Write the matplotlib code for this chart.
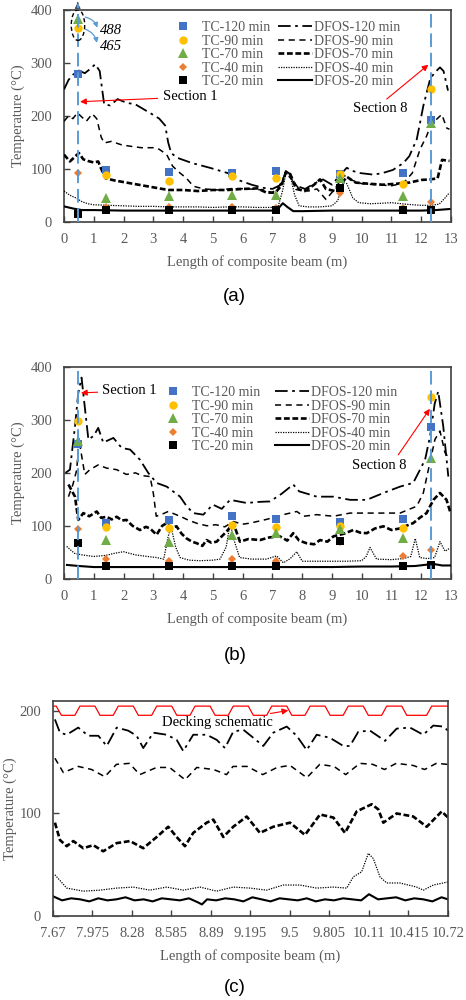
import matplotlib
matplotlib.use('Agg')
import matplotlib.pyplot as plt
from matplotlib.patches import Ellipse

plt.rcParams['font.family'] = ['Liberation Serif', 'DejaVu Serif']

# ---------------- data ----------------
tc_x = [0.46, 1.4, 3.53, 5.65, 7.12, 9.27, 11.4, 12.32]

# panel (a) thermocouples
tc120_a = [280, 97, 94, 93, 95, 91, 93, 192]
tc90_a = [366, 88, 77, 86, 82, 90, 72, 252]
tc70_a = [384, 45, 49, 50, 50, 83, 48, 187]
tc40_a = [92, 27, 28, 28, 26, 55, 25, 37]
tc20_a = [15, 22, 22, 22, 22, 64, 22, 22]

# panel (a) fibre
d120_a_x = [0.0, 0.15, 0.3, 0.5, 0.7, 0.9, 1.05, 1.2, 1.35, 1.55, 1.8, 2.1, 2.4, 2.7, 3.0, 3.2, 3.4, 3.5,
            3.6, 3.8, 4.3, 4.9, 5.5, 5.9, 6.3, 6.7, 7.0, 7.3, 7.45, 7.6, 7.8, 8.1, 8.4, 8.7, 9.0, 9.3,
            9.5, 9.7, 9.95, 10.4, 10.7, 11.05, 11.4, 11.6, 11.85, 11.96, 12.07, 12.3, 12.45, 12.63,
            12.75, 12.9]
d120_a = [250, 268, 278, 286, 281, 290, 298, 285, 222, 220, 232, 225, 222, 212, 202, 195, 182, 150,
          130, 121, 111, 102, 92, 78, 70, 64, 62, 70, 96, 90, 68, 62, 72, 80, 70, 90,
          102, 96, 92, 89, 92, 98, 111, 124, 156, 187, 219, 270, 282, 292,
          285, 248]
d90_a_x = [0.0, 0.15, 0.3, 0.45, 0.6, 0.75, 0.95, 1.1, 1.25, 1.35, 1.6, 1.9, 2.2, 2.6, 3.0, 3.2, 3.45,
           3.65, 3.9, 4.1, 4.35, 4.7, 5.2, 5.7, 6.2, 6.7, 7.0, 7.25, 7.45, 7.65, 7.9, 8.2, 8.5, 8.8,
           9.1, 9.4, 9.6, 10.0, 10.5, 11.0, 11.4, 11.7, 11.96, 12.18, 12.35, 12.52, 12.69, 12.86, 12.95]
d90_a = [190, 200, 195, 206, 198, 190, 204, 195, 160, 149, 152, 146, 143, 140, 140, 137, 127,
         105, 92, 83, 67, 62, 60, 63, 62, 60, 55, 70, 92, 80, 62, 58, 62, 42,
         62, 88, 80, 72, 70, 68, 73, 92, 137, 162, 187, 194, 203, 177, 175]
d70_a_x = [0.0, 0.2, 0.35, 0.5, 0.65, 0.8, 1.0, 1.15, 1.25, 1.4, 1.7, 2.0, 2.5, 3.0, 3.5, 4.0, 4.5,
           5.0, 5.5, 6.0, 6.5, 6.8, 7.1, 7.3, 7.45, 7.6, 7.8, 8.1, 8.4, 8.6, 8.8, 9.1, 9.3, 9.5, 9.8,
           10.2, 10.7, 11.2, 11.6, 12.0, 12.3, 12.55, 12.7, 12.95]
d70_a = [127, 114, 122, 130, 118, 115, 112, 114, 100, 82, 78, 75, 70, 65, 60, 60, 58,
         60, 60, 62, 63, 55, 55, 68, 93, 90, 62, 58, 70, 80, 62, 58, 70, 85, 74,
         72, 70, 72, 74, 79, 80, 82, 117, 115]
d40_a_x = [0.0, 0.2, 0.4, 0.6, 0.8, 1.0, 1.5, 2.0, 2.5, 3.0, 3.5, 4.0, 4.5, 5.0, 5.5, 6.0, 6.5, 7.0,
           7.2, 7.35, 7.45, 7.6, 7.75, 7.9, 8.2, 8.6, 9.0, 9.2, 9.35, 9.5, 9.7, 9.9, 10.3, 10.7, 11.0,
           11.5, 12.0, 12.3, 12.6, 12.8, 12.95]
d40_a = [58, 50, 45, 38, 34, 32, 31, 30, 29, 29, 28, 28, 28, 27, 28, 28, 27, 27,
         30, 60, 92, 88, 50, 30, 28, 28, 30, 40, 75, 72, 45, 36, 34, 35, 36,
         33, 31, 31, 33, 45, 55]
d20_a_x = [0.0, 0.3, 0.6, 1.0, 2.0, 3.0, 4.0, 5.0, 6.0, 7.0, 7.2, 7.35, 7.5, 7.7, 8.0, 9.0, 10.0,
           11.0, 12.0, 12.5, 12.95]
d20_a = [29, 25, 22, 22, 21, 21, 21, 21, 21, 21, 25, 35, 28, 20, 20, 21, 21,
         21, 21, 22, 24]

# panel (b) thermocouples
tc120_b = [255, 105, 111, 119, 113, 108, 113, 286]
tc90_b = [298, 97, 95, 102, 97, 100, 95, 343]
tc70_b = [260, 73, 69, 82, 87, 94, 76, 229]
tc40_b = [94, 37, 34, 37, 34, 70, 42, 54]
tc20_b = [68, 24, 24, 24, 24, 72, 24, 26]

# panel (b) fibre
d120_b_x = [0.05, 0.2, 0.37, 0.48, 0.59, 0.67, 0.82, 1.0, 1.15, 1.32, 1.5, 1.66, 1.94, 2.22, 2.55,
            2.83, 3.11, 3.45, 3.9, 4.12, 4.34, 4.68, 5.0, 5.3, 5.58, 6.14, 6.5, 6.92, 7.3, 7.7, 7.9,
            8.2, 8.49, 9.05, 9.61, 10.17, 10.73, 11.29, 11.73, 11.96, 12.13, 12.3, 12.45, 12.57,
            12.74, 12.91]
d120_b = [200, 206, 288, 351, 380, 339, 263, 270, 285, 257, 262, 266, 247, 244, 225,
          200, 181, 174, 155, 137, 124, 121, 140, 132, 149, 143, 145, 146, 160, 178, 165,
          160, 155, 155, 149, 149, 162, 174, 181, 206, 225, 270, 330, 354,
          288, 193]
d90_b_x = [0.15, 0.3, 0.43, 0.5, 0.6, 0.7, 0.87, 1.15, 1.43, 1.77, 2.1, 2.4, 2.6, 2.89, 3.0, 3.1,
           3.3, 3.5, 3.9, 4.2, 4.5, 4.8, 5.1, 5.4, 5.69, 6.0, 6.25, 6.8, 7.37, 7.82, 8.05, 8.49, 9.05,
           9.61, 10.17, 10.73, 11.29, 11.85, 12.07, 12.24, 12.46, 12.63, 12.8, 12.97]
d90_b = [155, 178, 206, 265, 230, 197, 206, 215, 209, 206, 197, 200, 195, 193, 162, 118,
         122, 127, 118, 110, 104, 100, 102, 98, 108, 103, 105, 112, 121, 127, 118, 121, 118,
         124, 124, 124, 124, 137, 162, 206, 263, 279, 238, 225]
d70_b_x = [0.15, 0.37, 0.48, 0.65, 0.85, 1.1, 1.25, 1.43, 1.6, 1.77, 1.95, 2.1, 2.3, 2.55, 2.75,
           2.89, 3.11, 3.3, 3.45, 3.6, 3.78, 3.95, 4.12, 4.3, 4.46, 4.65, 4.79, 4.95, 5.13, 5.3,
           5.46, 5.69, 5.91, 6.2, 6.58, 6.9, 7.25, 7.5, 7.7, 7.9, 8.15, 8.4, 8.6, 8.85, 9.05, 9.4,
           9.72, 9.95, 10.17, 10.45, 10.73, 11.0, 11.29, 11.5, 11.73, 11.95, 12.18, 12.41, 12.63,
           12.85, 12.97]
d70_b = [178, 155, 111, 124, 118, 127, 115, 117, 112, 117, 110, 111, 100, 92, 98,
         95, 83, 100, 105, 96, 99, 85, 76, 70, 67, 62, 73, 68, 70, 80,
         89, 105, 70, 75, 73, 78, 80, 72, 86, 72, 67, 65, 73, 70, 80, 85,
         92, 87, 86, 95, 99, 92, 95, 100, 105, 115, 124, 149, 162,
         149, 127]
d40_b_x = [0.09, 0.35, 0.6, 1.0, 1.4, 1.7, 2.0, 2.4, 2.8, 3.11, 3.35, 3.5, 3.6, 3.75, 3.9, 4.2,
           4.57, 5.0, 5.24, 5.45, 5.58, 5.7, 5.9, 6.3, 6.8, 7.14, 7.37, 7.6, 7.82, 8.0, 8.5, 9.0,
           9.5, 10.0, 10.15, 10.28, 10.5, 11.0, 11.4, 11.65, 11.8, 11.95, 12.2, 12.45, 12.63,
           12.8, 12.97]
d40_b = [61, 48, 45, 42, 44, 48, 51, 45, 42, 40, 37, 80, 97, 60, 40, 35,
         34, 35, 37, 60, 105, 75, 40, 37, 37, 43, 30, 38, 51, 33, 33, 33,
         33, 34, 42, 59, 37, 36, 38, 42, 76, 40, 38, 40, 70,
         52, 58]
d20_b_x = [0.1, 0.5, 1.0, 2.0, 3.0, 4.0, 5.0, 6.0, 7.0, 8.0, 9.0, 10.0, 11.0, 11.8, 12.4, 12.7, 12.97]
d20_b = [26, 24, 22, 22, 22, 22, 22, 22, 22, 22, 22, 23, 23, 24, 28, 25, 25]

# panel (c) close-up
d120_c_x = [7.685, 7.724, 7.776, 7.865, 7.943, 8.02, 8.085, 8.162, 8.251, 8.316, 8.367, 8.445, 8.548,
            8.625, 8.676, 8.753, 8.857, 8.934, 8.998, 9.062, 9.139, 9.217, 9.294, 9.371, 9.475,
            9.552, 9.629, 9.706, 9.809, 9.912, 9.963, 10.028, 10.118, 10.234, 10.324, 10.427,
            10.529, 10.607, 10.684, 10.72]
d120_c = [192, 179, 177, 184, 176, 176, 166, 184, 181, 176, 164, 179, 177,
          172, 161, 177, 177, 172, 164, 180, 182, 174, 166, 179, 185,
          176, 162, 177, 174, 166, 166, 180, 181, 171, 183, 184,
          177, 186, 185, 181]
d90_c_x = [7.685, 7.75, 7.865, 7.968, 8.07, 8.16, 8.26, 8.34, 8.47, 8.57, 8.69, 8.78, 8.91, 9.01,
           9.06, 9.17, 9.29, 9.40, 9.50, 9.63, 9.73, 9.84, 9.93, 10.04, 10.14, 10.23, 10.32, 10.45,
           10.54, 10.63, 10.72]
d90_c = [154, 140, 146, 143, 136, 148, 149, 138, 145, 145, 133, 145, 143, 138,
         146, 146, 138, 145, 147, 135, 148, 146, 138, 149, 148, 143, 149, 147,
         143, 149, 148]
d70_c_x = [7.685, 7.724, 7.776, 7.827, 7.904, 7.981, 8.058, 8.162, 8.265, 8.367, 8.471, 8.56, 8.625,
           8.689, 8.753, 8.857, 8.908, 8.985, 9.062, 9.166, 9.268, 9.371, 9.5, 9.616, 9.732, 9.835,
           9.925, 10.015, 10.131, 10.182, 10.221, 10.324, 10.452, 10.556, 10.672, 10.72]
d70_c = [91, 74, 68, 73, 66, 69, 63, 71, 73, 66, 77, 87, 77,
         68, 81, 91, 94, 77, 87, 97, 81, 87, 91, 79, 99, 96,
         81, 102, 109, 104, 91, 100, 97, 87, 102, 96]
d40_c_x = [7.685, 7.776, 7.904, 8.033, 8.162, 8.29, 8.419, 8.548, 8.676, 8.805, 8.934, 9.062, 9.191,
           9.32, 9.448, 9.577, 9.706, 9.834, 9.938, 9.989, 10.054, 10.105, 10.143, 10.195, 10.247,
           10.35, 10.478, 10.53, 10.607, 10.72]
d40_c = [40, 27, 24, 25, 27, 28, 25, 28, 25, 28, 24, 28, 27,
         25, 30, 30, 27, 28, 27, 38, 43, 61, 56, 38, 32,
         32, 28, 25, 30, 33]
d20_c_x = [7.67, 7.74, 7.81, 7.88, 7.95, 8.02, 8.09, 8.16, 8.23, 8.30, 8.37, 8.44, 8.51, 8.58, 8.65,
           8.72, 8.79, 8.82, 8.86, 8.93, 9.00, 9.07, 9.14, 9.21, 9.28, 9.35, 9.42, 9.49, 9.56, 9.63,
           9.70, 9.77, 9.84, 9.91, 9.98, 10.05, 10.11, 10.18, 10.25, 10.32, 10.39, 10.46, 10.53,
           10.60, 10.67, 10.72]
d20_c = [19, 15, 17, 16, 14, 17, 15, 16, 18, 15, 16, 14, 17, 16, 15,
         17, 13, 11, 16, 15, 17, 16, 14, 18, 16, 14, 17, 16, 15, 17,
         14, 16, 15, 17, 16, 15, 21, 16, 17, 18, 15, 17, 16, 14, 18, 16]

# decking profile corners (schematic)
deck_x = [7.67, 7.695, 7.735, 7.839, 7.878, 7.994, 8.033, 8.135, 8.174, 8.29, 8.329, 8.432, 8.471,
          8.587, 8.626, 8.728, 8.767, 8.883, 8.922, 9.023, 9.062, 9.178, 9.217, 9.32, 9.359, 9.475,
          9.514, 9.616, 9.655, 9.771, 9.81, 9.911, 9.95, 10.066, 10.105, 10.208, 10.247, 10.363,
          10.402, 10.555, 10.594, 10.72]
deck_y = [205, 205, 196, 196, 205, 205, 196, 196, 205, 205, 196, 196, 205,
          205, 196, 196, 205, 205, 196, 196, 205, 205, 196, 196, 205, 205,
          196, 196, 205, 205, 196, 196, 205, 205, 196, 196, 205, 205,
          196, 196, 205, 205]

beam_ticks = list(range(0, 14))
close_ticks = [7.67, 7.975, 8.28, 8.585, 8.89, 9.195, 9.5, 9.805, 10.11, 10.415, 10.72]
close_labels = ['7.67', '7.975', '8.28', '8.585', '8.89', '9.195', '9.5', '9.805', '10.11', '10.415', '10.72']
section_x = [0.46, 12.32]

# ---------------- styles ----------------
GREY = '#595959'
SPINE = '#404040'
BLUE_LINE = '#5B9BD5'
fs = 10.5

tc_styles = [('TC-120 min', 's', '#4472C4', 5.5),
             ('TC-90 min', 'o', '#FFC000', 6),
             ('TC-70 min', '^', '#70AD47', 6.5),
             ('TC-40 min', 'D', '#ED7D31', 3.8),
             ('TC-20 min', 's', 'black', 5.5)]
dfos_styles = [('DFOS-120 min', (0, (7, 2.5, 1.5, 2.5)), 1.3),
               ('DFOS-90 min', (0, (4, 3)), 1.1),
               ('DFOS-70 min', (0, (2.2, 1)), 1.9),
               ('DFOS-40 min', (0, (1, 1)), 0.9),
               ('DFOS-20 min', '-', 1.5)]


def style_axes(ax, xlim, ylim, xticks, yticks, xlabels=None, ypad=4):
    ax.set_xlim(*xlim)
    ax.set_ylim(*ylim)
    ax.set_xticks(xticks)
    if xlabels is not None:
        ax.set_xticklabels(xlabels)
    ax.set_yticks(yticks)
    ax.tick_params(direction='in', length=4, width=1, color=SPINE, labelcolor=GREY, labelsize=fs)
    ax.tick_params(axis='x', pad=8)
    ax.tick_params(axis='y', pad=8.5)
    for s in ax.spines.values():
        s.set_color(SPINE)
        s.set_linewidth(1.2)
    ax.set_xlabel('Length of composite beam (m)', color=GREY, fontsize=fs, labelpad=7)
    ax.set_ylabel('Temperature (°C)', color=GREY, fontsize=fs, labelpad=ypad)


def draw_beam(ax, dfos, tcs, leg_anchor, colspace):
    handles = []
    for (lab, mk, col, ms), vals in zip(tc_styles, tcs):
        h, = ax.plot(tc_x, vals, linestyle='none', marker=mk, color=col, markersize=ms,
                     markeredgewidth=0, label=lab, zorder=4)
        handles.append(h)
    for (lab, ls, lw), (xs, ys) in zip(dfos_styles, dfos):
        h, = ax.plot(xs, ys, color='black', linestyle=ls, linewidth=lw, label=lab, zorder=3)
        handles.append(h)
    leg = ax.legend(handles=handles, ncol=2, frameon=False, fontsize=10, loc='upper left',
                    bbox_to_anchor=leg_anchor, borderpad=0, borderaxespad=0, handlelength=2.5,
                    handletextpad=0.15, columnspacing=colspace, labelspacing=0.03, numpoints=1)
    for t in leg.get_texts():
        t.set_color(GREY)
    style_axes(ax, (0, 13), (0, 400), beam_ticks, [0, 100, 200, 300, 400])


fig = plt.figure(figsize=(4.66, 10), dpi=100)
ax_a = fig.add_axes([0.1373, 0.7783, 0.8305, 0.2114])
ax_b = fig.add_axes([0.1373, 0.4213, 0.8305, 0.2117])
ax_c = fig.add_axes([0.1137, 0.0843, 0.8476, 0.2147])

# ---- (a) ----
draw_beam(ax_a,
          [(d120_a_x, d120_a), (d90_a_x, d90_a), (d70_a_x, d70_a), (d40_a_x, d40_a), (d20_a_x, d20_a)],
          [tc120_a, tc90_a, tc70_a, tc40_a, tc20_a], (0.2625, 0.948), 0.5)
ax_a.plot([section_x[0]] * 2, [0, 412], color=BLUE_LINE, lw=1.4, dashes=(7, 3), clip_on=False, zorder=5)
ax_a.annotate('', xy=(section_x[0], 420), xytext=(section_x[0], 408), annotation_clip=False,
              arrowprops=dict(arrowstyle='-|>', color='#44546A', lw=1, mutation_scale=8))
ax_a.plot([section_x[1]] * 2, [0, 400], color=BLUE_LINE, lw=1.4, dashes=(7, 3), zorder=5)
ax_a.add_patch(Ellipse((0.47, 372), 0.45, 58, fill=False, ec='black', lw=1, ls=(0, (3, 2)), zorder=6))
ax_a.annotate('', xy=(1.15, 362), xytext=(0.62, 388),
              arrowprops=dict(arrowstyle='-|>', color=BLUE_LINE, lw=0.9, mutation_scale=7,
                              connectionstyle='arc3,rad=-0.35'))
ax_a.annotate('', xy=(1.12, 333), xytext=(0.62, 366),
              arrowprops=dict(arrowstyle='-|>', color=BLUE_LINE, lw=0.9, mutation_scale=7,
                              connectionstyle='arc3,rad=-0.35'))
ax_a.text(1.21, 361, '488', style='italic', fontsize=fs, va='center', ha='left')
ax_a.text(1.21, 331, '465', style='italic', fontsize=fs, va='center', ha='left')
ax_a.annotate('Section 1', xy=(0.54, 227), xytext=(3.33, 236), fontsize=fs, va='center', ha='left',
              arrowprops=dict(arrowstyle='-|>', color='red', lw=0.8, mutation_scale=9, shrinkA=2, shrinkB=0))
ax_a.text(9.71, 214, 'Section 8', fontsize=fs, va='center', ha='left')
ax_a.annotate('', xy=(12.24, 297), xytext=(10.84, 232),
              arrowprops=dict(arrowstyle='-|>', color='red', lw=0.8, mutation_scale=9, shrinkA=0, shrinkB=0))

# ---- (b) ----
draw_beam(ax_b,
          [(d120_b_x, d120_b), (d90_b_x, d90_b), (d70_b_x, d70_b), (d40_b_x, d40_b), (d20_b_x, d20_b)],
          [tc120_b, tc90_b, tc70_b, tc40_b, tc20_b], (0.2367, 0.909), 1.0)
for sx in section_x:
    ax_b.plot([sx] * 2, [0, 400], color=BLUE_LINE, lw=1.4, dashes=(7, 3), zorder=5)
ax_b.annotate('Section 1', xy=(0.57, 351), xytext=(1.27, 355), fontsize=fs, va='center', ha='left',
              arrowprops=dict(arrowstyle='-|>', color='red', lw=0.8, mutation_scale=9, shrinkA=1, shrinkB=0))
ax_b.text(9.66, 214, 'Section 8', fontsize=fs, va='center', ha='left')
ax_b.annotate('', xy=(12.29, 321), xytext=(11.23, 234),
              arrowprops=dict(arrowstyle='-|>', color='red', lw=0.8, mutation_scale=9, shrinkA=0, shrinkB=0))

# ---- (c) ----
for (lab, ls, lw), (xs, ys) in zip(dfos_styles, [(d120_c_x, d120_c), (d90_c_x, d90_c), (d70_c_x, d70_c),
                                                (d40_c_x, d40_c), (d20_c_x, d20_c)]):
    ax_c.plot(xs, ys, color='black', linestyle=ls, linewidth=lw)
ax_c.plot(deck_x, deck_y, color='red', lw=0.9)
ax_c.annotate('Decking schematic', xy=(9.487, 200.8), xytext=(8.509, 188.7), fontsize=fs,
              va='center', ha='left',
              arrowprops=dict(arrowstyle='-|>', color='red', lw=0.8, mutation_scale=9, shrinkA=0, shrinkB=0))
style_axes(ax_c, (7.67, 10.72), (0, 210), close_ticks, [0, 100, 200], close_labels, ypad=2)

# panel captions
for y, lab in [(0.7033, '(a)'), (0.345, '(b)'), (0.012, '(c)')]:
    fig.text(0.504, y, lab, ha='center', va='center', fontsize=13.5, family='Liberation Sans')

fig.savefig('out.png', dpi=100)
